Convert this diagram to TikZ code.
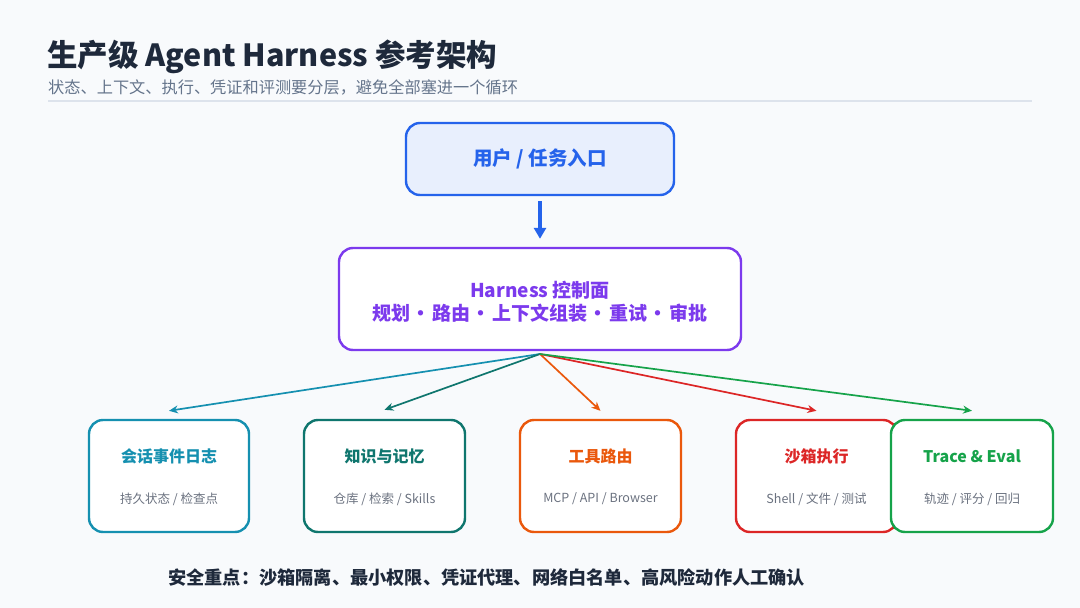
\documentclass[tikz,border=0pt]{standalone}
\usepackage{fontspec}
\setmainfont{Noto Sans CJK SC}
\usetikzlibrary{arrows.meta}
\definecolor{bg}{HTML}{F8FAFC}
\definecolor{navy}{HTML}{1E293B}
\definecolor{subgray}{HTML}{64748B}
\definecolor{rule}{HTML}{DDE3EC}
\definecolor{cblue}{HTML}{2563EB}
\definecolor{cbluefill}{HTML}{E8EFFD}
\definecolor{cpurple}{HTML}{7C3AED}
\definecolor{ccyan}{HTML}{1590B0}
\definecolor{cteal}{HTML}{0F766E}
\definecolor{corange}{HTML}{EA580C}
\definecolor{cred}{HTML}{DC2626}
\definecolor{cgreen}{HTML}{16A34A}
\definecolor{smallgray}{HTML}{6B7280}
\newcommand{\dotsep}{\hspace{6pt}\makebox[10pt]{·}\hspace{6pt}}
\tikzset{
  box/.style={draw, line width=2.4pt, rounded corners=14pt, fill=white, inner sep=0pt},
  ttl/.style={font=\fontsize{16}{19}\selectfont\bfseries},
  sub/.style={font=\fontsize{12.5}{15}\selectfont, text=smallgray},
  conn/.style={line width=1.7pt, -{Stealth[length=9pt,width=8pt]}},
}
\begin{document}
\begin{tikzpicture}[x=1pt,y=-1pt]
\fill[bg] (0,0) rectangle (1080,608);
\useasboundingbox (0,0) rectangle (1080,608);
% title
\node[anchor=west, text=navy, font=\fontsize{30.5}{36}\selectfont\bfseries, inner sep=0pt] (title) at (47,57) {生产级 Agent Harness 参考架构};
\node[anchor=west, text=subgray, font=\fontsize{16.2}{19}\selectfont, inner sep=0pt] (subtitle) at (48,87) {状态、上下文、执行、凭证和评测要分层，避免全部塞进一个循环};
\draw[rule, line width=1.5pt] (48,101) -- (1032,101);
% top box
\node[box, draw=cblue, fill=cbluefill, minimum width=268pt, minimum height=72pt, text=cblue, font=\fontsize{19.5}{23}\selectfont\bfseries] (user) at (540,159) {用户 / 任务入口};
% harness
\node[box, draw=cpurple, minimum width=402pt, minimum height=102pt, text=cpurple, font=\fontsize{19}{24}\selectfont\bfseries, align=center] (harness) at (540,299) {};
\node[text=cpurple, font=\fontsize{19}{24}\selectfont\bfseries, align=center] (harness-t) at (540,302) {Harness 控制面\\[-1pt]规划\dotsep 路由\dotsep 上下文组装\dotsep 重试\dotsep 审批};
\draw[cblue, line width=3.4pt, -{Triangle[length=11pt,width=12pt]}] (user.south) ++(0,5) -- ([yshift=8pt]harness.north);
% bottom boxes
\node[box, draw=ccyan, minimum width=160pt, minimum height=112pt] (log) at (169,476) {};
\node[box, draw=cteal, minimum width=161pt, minimum height=112pt] (kb) at (384.5,476) {};
\node[box, draw=corange, minimum width=161pt, minimum height=112pt] (tool) at (600.5,476) {};
\node[box, draw=cred, minimum width=161pt, minimum height=112pt] (sand) at (816.5,476) {};
\node[box, draw=cgreen, minimum width=162pt, minimum height=112pt] (trace) at (972,476) {};
\foreach \n/\c/\t/\s in {log/ccyan/{会话事件日志}/{持久状态 / 检查点}, kb/cteal/{知识与记忆}/{仓库 / 检索 / Skills}, tool/corange/{工具路由}/{MCP / API / Browser}, sand/cred/{沙箱执行}/{Shell / 文件 / 测试}, trace/cgreen/{Trace \& Eval}/{轨迹 / 评分 / 回归}}{
  \node[ttl, text=\c] (\n-t) at ([yshift=20pt]\n.center) {\t};
  \node[sub] (\n-s) at ([yshift=-23pt]\n.center) {\s};
}
% connectors
\coordinate (hub) at (540,354);
\draw[conn, ccyan] (hub) -- ([yshift=8pt]log.north);
\draw[conn, cteal] (hub) -- ([yshift=9pt]kb.north);
\draw[conn, corange] (hub) -- ([yshift=8pt]tool.north);
\draw[conn, cred] (hub) -- ([yshift=8pt]sand.north);
\draw[conn, cgreen] (hub) -- ([yshift=8pt]trace.north);
% footer
\node[anchor=west, text=navy, font=\fontsize{18.2}{21}\selectfont\bfseries, inner sep=0pt] (foot) at (168,578) {安全重点：沙箱隔离、最小权限、凭证代理、网络白名单、高风险动作人工确认};
\end{tikzpicture}
\end{document}
